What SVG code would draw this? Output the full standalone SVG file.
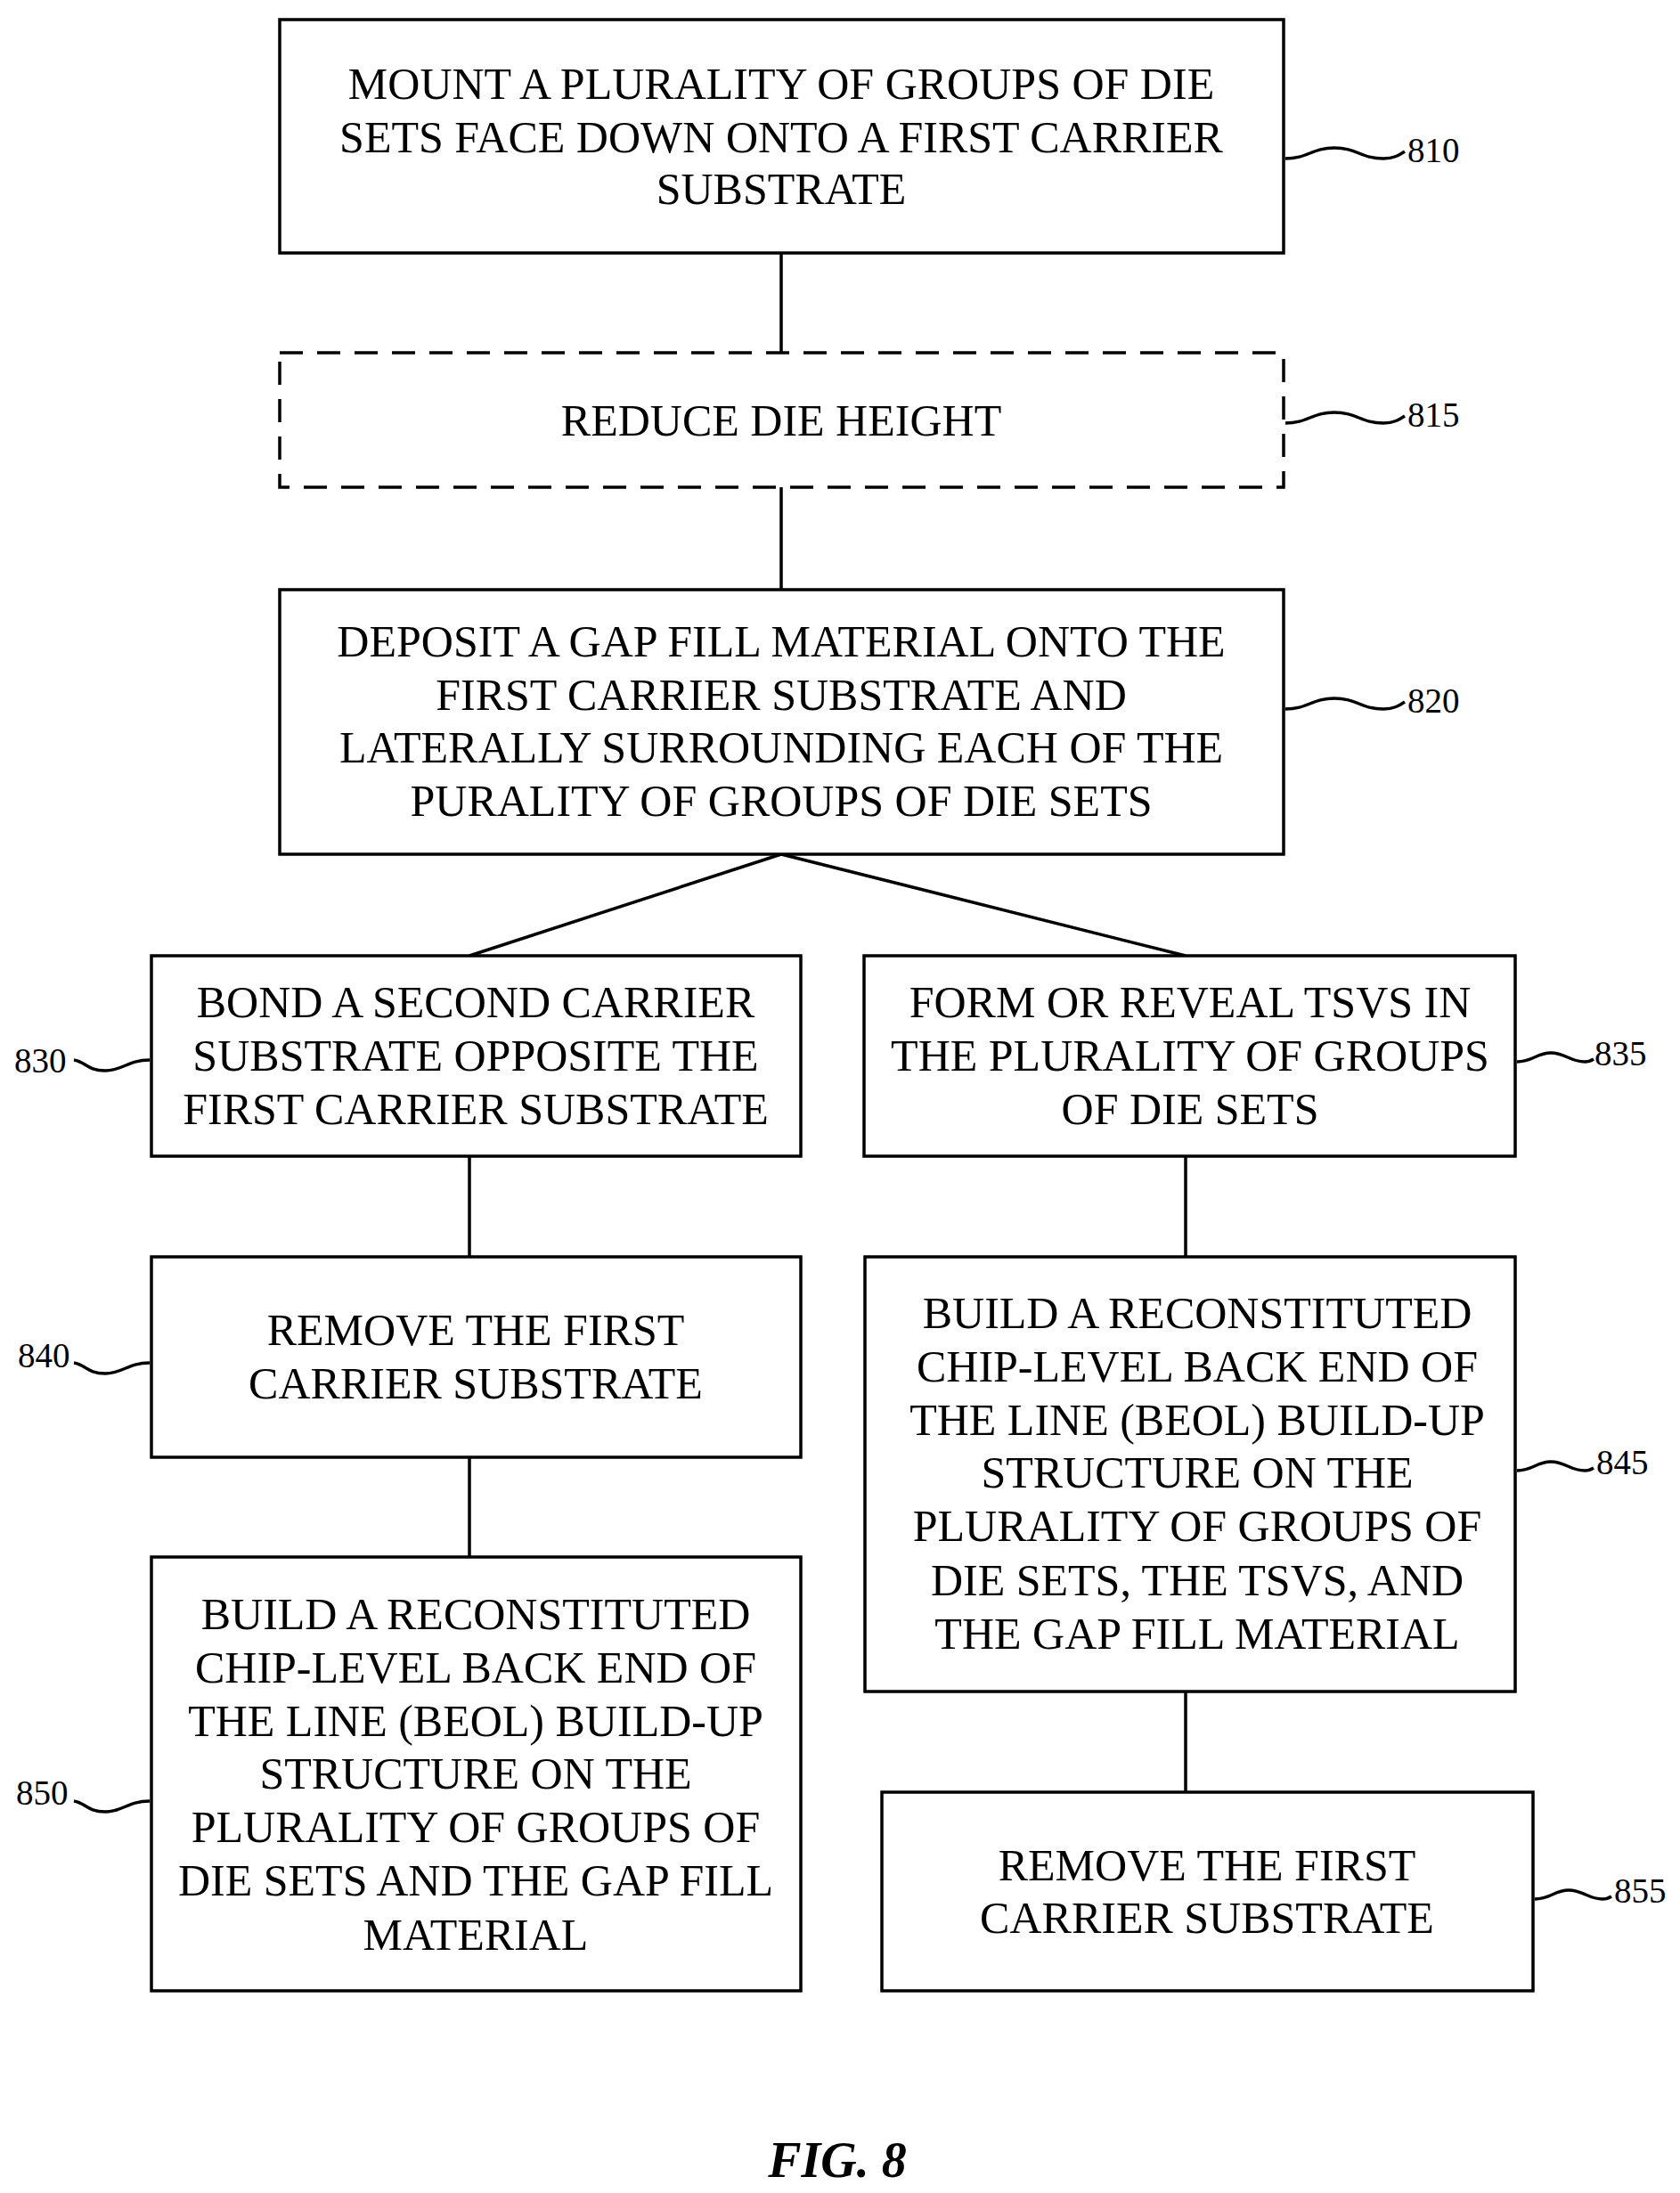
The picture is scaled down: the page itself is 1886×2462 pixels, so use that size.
<svg xmlns="http://www.w3.org/2000/svg" width="1886" height="2462" viewBox="0 0 1886 2462">
<style>
.b{fill:#fff;stroke:#000;stroke-width:3.5}
.d{stroke-dasharray:26,16}
.t{font-family:"Liberation Serif",serif;font-size:50px;text-anchor:middle;dominant-baseline:central}
.l{font-family:"Liberation Serif",serif;font-size:39px;dominant-baseline:central}
.c{fill:none;stroke:#000;stroke-width:3.5}
</style>
<rect width="1886" height="2462" fill="#fff"/>
<g id="connectors" class="c">
<path d="M877 284V396M877 547V662M877 959L527 1073M877 959L1331 1073M527 1298V1411M527 1636V1748M1331 1298V1411M1331 1899V2012"/>
<path d="M1443 178c25 0 30-12 55-12s30 12 55 12c12 0 18-4 24-8"/>
<path d="M1443 475c25 0 30-12 55-12s30 12 55 12c12 0 18-4 24-8"/>
<path d="M1443 796c25 0 30-12 55-12s30 12 55 12c12 0 18-4 24-8"/>
<path d="M1703 1192c18 0 22-10 38-10s22 10 38 10c4 0 7-1 10-3"/>
<path d="M1703 1651c18 0 22-10 38-10s22 10 38 10c4 0 7-1 10-3"/>
<path d="M1723 2132c18 0 22-10 38-10s22 10 38 10c4 0 7-1 10-3"/>
<path d="M168 1190c-25 0-30 12-50 12s-22-10-35-12"/>
<path d="M168 1530c-25 0-30 12-50 12s-22-10-35-12"/>
<path d="M168 2022c-25 0-30 12-50 12s-22-10-35-12"/>
</g>
<g id="n810"><rect class="b" x="314" y="22" width="1127" height="262"/>
<text class="t" x="877" y="94">MOUNT A PLURALITY OF GROUPS OF DIE</text><text class="t" x="877" y="154">SETS FACE DOWN ONTO A FIRST CARRIER</text><text class="t" x="877" y="212">SUBSTRATE</text>
<text class="l" x="1580" y="168">810</text></g>
<g id="n815"><rect class="b d" x="314" y="396" width="1127" height="151"/>
<text class="t" x="877" y="472">REDUCE DIE HEIGHT</text><text class="l" x="1580" y="465">815</text></g>
<g id="n820"><rect class="b" x="314" y="662" width="1127" height="297"/>
<text class="t" x="877" y="720">DEPOSIT A GAP FILL MATERIAL ONTO THE</text><text class="t" x="877" y="780">FIRST CARRIER SUBSTRATE AND</text><text class="t" x="877" y="839">LATERALLY SURROUNDING EACH OF THE</text><text class="t" x="877" y="899">PURALITY OF GROUPS OF DIE SETS</text>
<text class="l" x="1580" y="786">820</text></g>
<g id="n830"><rect class="b" x="170" y="1073" width="729" height="225"/>
<text class="t" x="534" y="1125">BOND A SECOND CARRIER</text><text class="t" x="534" y="1185">SUBSTRATE OPPOSITE THE</text><text class="t" x="534" y="1245">FIRST CARRIER SUBSTRATE</text>
<text class="l" x="16" y="1190">830</text></g>
<g id="n835"><rect class="b" x="970" y="1073" width="731" height="225"/>
<text class="t" x="1336" y="1125">FORM OR REVEAL TSVS IN</text><text class="t" x="1336" y="1185">THE PLURALITY OF GROUPS</text><text class="t" x="1336" y="1245">OF DIE SETS</text>
<text class="l" x="1790" y="1182">835</text></g>
<g id="n840"><rect class="b" x="170" y="1411" width="729" height="225"/>
<text class="t" x="534" y="1493">REMOVE THE FIRST</text><text class="t" x="534" y="1553">CARRIER SUBSTRATE</text>
<text class="l" x="20" y="1521">840</text></g>
<g id="n845"><rect class="b" x="971" y="1411" width="730" height="488"/>
<text class="t" x="1344" y="1474">BUILD A RECONSTITUTED</text><text class="t" x="1344" y="1534">CHIP-LEVEL BACK END OF</text><text class="t" x="1344" y="1594">THE LINE (BEOL) BUILD-UP</text><text class="t" x="1344" y="1653">STRUCTURE ON THE</text><text class="t" x="1344" y="1713">PLURALITY OF GROUPS OF</text><text class="t" x="1344" y="1774">DIE SETS, THE TSVS, AND</text><text class="t" x="1344" y="1834">THE GAP FILL MATERIAL</text>
<text class="l" x="1792" y="1641">845</text></g>
<g id="n850"><rect class="b" x="170" y="1748" width="729" height="487"/>
<text class="t" x="534" y="1812">BUILD A RECONSTITUTED</text><text class="t" x="534" y="1872">CHIP-LEVEL BACK END OF</text><text class="t" x="534" y="1932">THE LINE (BEOL) BUILD-UP</text><text class="t" x="534" y="1991">STRUCTURE ON THE</text><text class="t" x="534" y="2051">PLURALITY OF GROUPS OF</text><text class="t" x="534" y="2111">DIE SETS AND THE GAP FILL</text><text class="t" x="534" y="2172">MATERIAL</text>
<text class="l" x="18" y="2012">850</text></g>
<g id="n855"><rect class="b" x="990" y="2012" width="731" height="223"/>
<text class="t" x="1355" y="2094">REMOVE THE FIRST</text><text class="t" x="1355" y="2153">CARRIER SUBSTRATE</text>
<text class="l" x="1812" y="2122">855</text></g>
<text x="940" y="2425" style="font-family:'Liberation Serif',serif;font-size:56px;font-weight:bold;font-style:italic;text-anchor:middle;dominant-baseline:central">FIG. 8</text>
</svg>
